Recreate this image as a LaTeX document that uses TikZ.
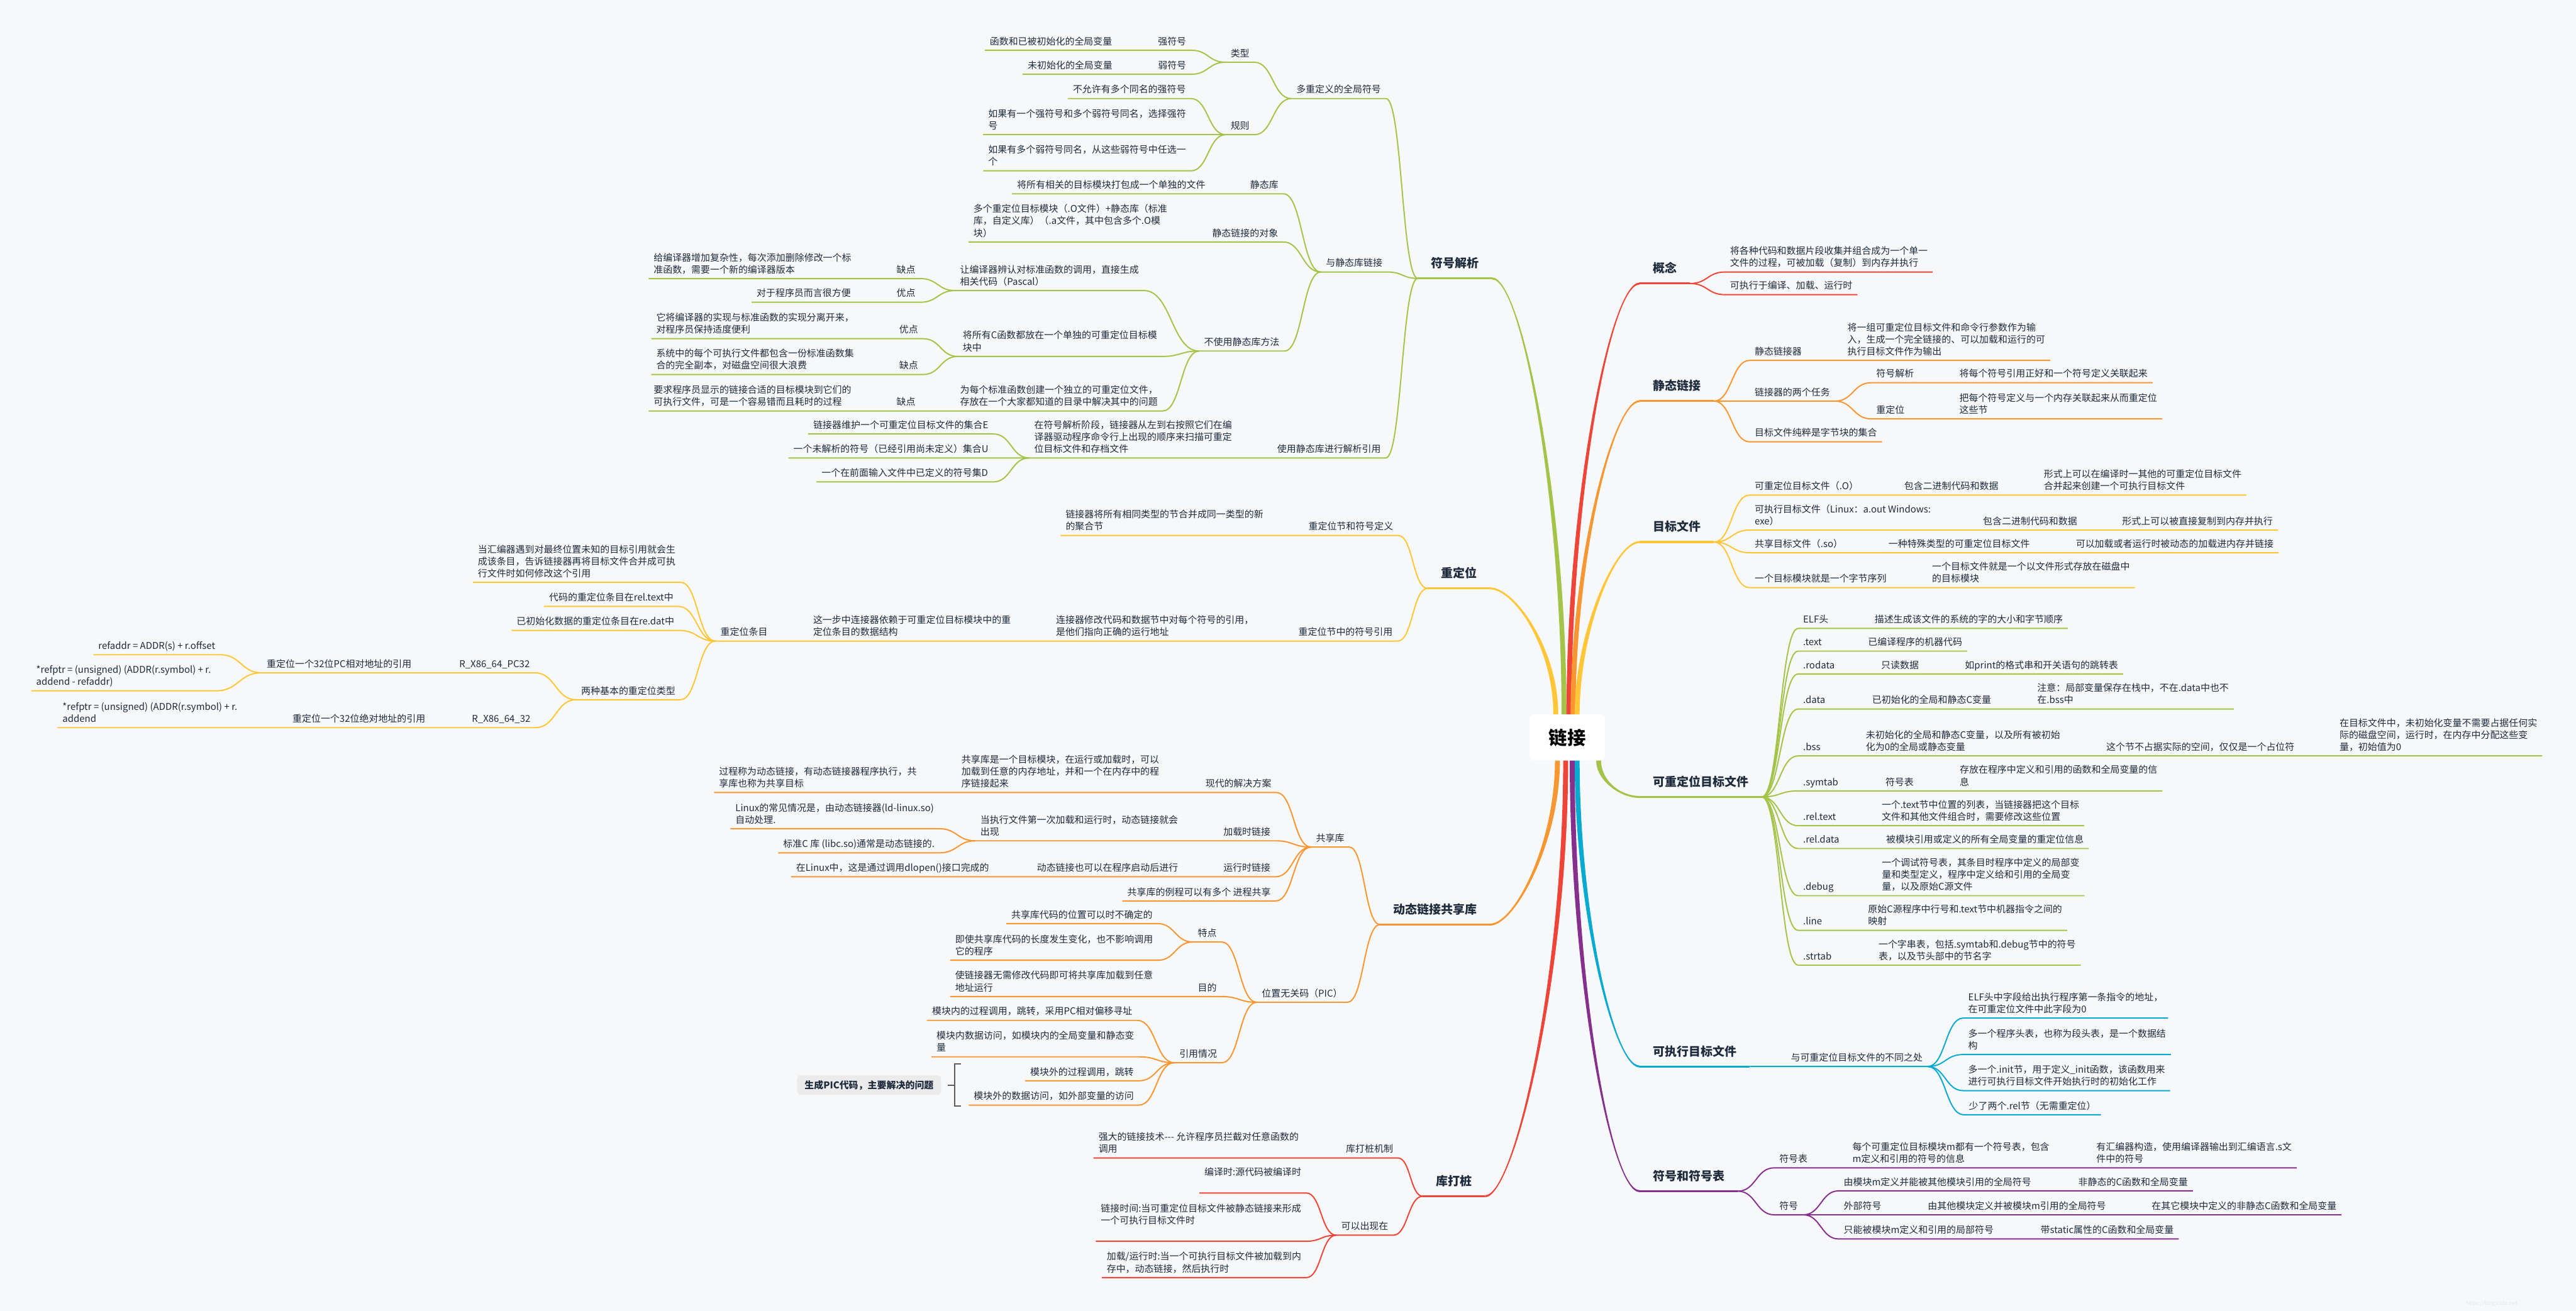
\documentclass[tikz,border=0pt]{standalone}
\usepackage{fontspec}
\setmainfont{Noto Sans CJK SC}
\usetikzlibrary{calc}

\definecolor{sheet}{HTML}{F7F8FA}
\definecolor{ink}{HTML}{1E2B3C}
\definecolor{lred}{HTML}{EF4438}
\definecolor{lorange}{HTML}{F89632}
\definecolor{lyellow}{HTML}{FFC738}
\definecolor{lgreen}{HTML}{A4C449}
\definecolor{lcyan}{HTML}{08AAD0}
\definecolor{lpurple}{HTML}{86308E}
\definecolor{brk}{HTML}{5C5C5C}
\definecolor{gistbg}{HTML}{EBEBEB}
\definecolor{wmark}{HTML}{E4E6EA}

\newcommand\leaffont{\fontsize{16.3}{20.8}\selectfont}
\newcommand\topicfont{\fontsize{20.7}{25}\selectfont\bfseries}
\newcommand\hubfont{\fontsize{32}{38}\selectfont\bfseries}

\begin{document}
\begin{tikzpicture}[x=1mm, y=-1mm,
    hub/.style={fill=white, rounded corners=3mm, minimum width=46mm, minimum height=28mm, font=\hubfont, text=black},
    topic/.style={anchor=south west, inner xsep=8mm, inner ysep=3.85mm, font=\topicfont, text=ink, execute at end node=\strut},
    leaf/.style={anchor=south west, inner xsep=3mm, inner ysep=1.1mm, align=left, font=\leaffont, text=ink, execute at end node=\strut},
    gist/.style={fill=gistbg, rounded corners=2.5mm, minimum width=87.6mm, minimum height=12mm, font=\leaffont\bfseries, text=ink},
    trunk/.style={fill=#1},
    bar/.style={draw=#1, line width=1.2mm},
    twig/.style={draw=#1, line width=0.75mm},
    brace/.style={draw=brk, line width=0.8mm},
    hs/.style={to path={let \p1=(\tikztostart), \p2=(\tikztotarget) in .. controls (0.5*\x1+0.5*\x2,\y1) and (0.5*\x1+0.5*\x2,\y2) .. (\tikztotarget)}}
]
\fill[sheet] (0,0) rectangle (1568,798);
\useasboundingbox (0,0) rectangle (1568,798);

\node[hub] (link) at (954,449) {链接};

\node[topic] (gn) at (998,172.6) {概念};
\node[topic] (jtlj) at (998,244.2) {静态链接};
\node[topic] (mbwj) at (998,330) {目标文件};
\node[topic] (kcdw) at (998,485.2) {可重定位目标文件};
\node[topic] (kzx) at (998,649.3) {可执行目标文件};
\node[topic] (fhfb) at (998,725.2) {符号和符号表};
\node[topic] (fhjx) at (863,169.5) {符号解析};
\node[topic] (cdw) at (869,358.2) {重定位};
\node[topic] (dtlj) at (840,562.9) {动态链接共享库};
\node[topic] (kdz) at (866,728.3) {库打桩};

\node[leaf] (gn1) at (1050,165.6) {将各种代码和数据片段收集并组合成为一个单一\\文件的过程，可被加载（复制）到内存并执行};
\node[leaf] (gn2) at (1050,179.4) {可执行于编译、加载、运行时};

\node[leaf] (ljq) at (1065,219.4) {静态链接器};
\node[leaf] (ljq1) at (1121.5,219.4) {将一组可重定位目标文件和命令行参数作为输\\入，生成一个完全链接的、可以加载和运行的可\\执行目标文件作为输出};
\node[leaf] (rw) at (1065,244.2) {链接器的两个任务};
\node[leaf] (rwjx) at (1139,233) {符号解析};
\node[leaf] (rwjx1) at (1189.6,233) {将每个符号引用正好和一个符号定义关联起来};
\node[leaf] (rwdw) at (1139,255) {重定位};
\node[leaf] (rwdw1) at (1189.6,255) {把每个符号定义与一个内存关联起来从而重定位\\这些节};
\node[leaf] (zjk) at (1065,269) {目标文件纯粹是字节块的集合};

\node[leaf] (kcd) at (1065,301.4) {可重定位目标文件（.O）};
\node[leaf] (kcd1) at (1156,301.4) {包含二进制代码和数据};
\node[leaf] (kcd2) at (1241,301.4) {形式上可以在编译时一其他的可重定位目标文件\\合并起来创建一个可执行目标文件};
\node[leaf] (kzw) at (1065,322.7) {可执行目标文件（Linux：a.out Windows:\\exe）};
\node[leaf] (kzw1) at (1204,322.7) {包含二进制代码和数据};
\node[leaf] (kzw2) at (1288.7,322.7) {形式上可以被直接复制到内存并执行};
\node[leaf] (gxw) at (1065,336.5) {共享目标文件（.so）};
\node[leaf] (gxw1) at (1146.5,336.5) {一种特殊类型的可重定位目标文件};
\node[leaf] (gxw2) at (1260.5,336.5) {可以加载或者运行时被动态的加载进内存并链接};
\node[leaf] (zjxl) at (1065,357.8) {一个目标模块就是一个字节序列};
\node[leaf] (zjxl1) at (1173,357.8) {一个目标文件就是一个以文件形式存放在磁盘中\\的目标模块};

\node[leaf] (elf) at (1094.5,382.6) {ELF头};
\node[leaf] (elf1) at (1138,382.6) {描述生成该文件的系统的字的大小和字节顺序};
\node[leaf] (stext) at (1094.5,396.4) {.text};
\node[leaf] (stext1) at (1134,396.4) {已编译程序的机器代码};
\node[leaf] (srod) at (1094.5,410.3) {.rodata};
\node[leaf] (srod1) at (1142,410.3) {只读数据};
\node[leaf] (srod2) at (1193,410.3) {如print的格式串和开关语句的跳转表};
\node[leaf] (sdat) at (1094.5,431.7) {.data};
\node[leaf] (sdat1) at (1136.5,431.7) {已初始化的全局和静态C变量};
\node[leaf] (sdat2) at (1237,431.7) {注意：局部变量保存在栈中，不在.data中也不\\在.bss中};
\node[leaf] (sbss) at (1094.5,460.2) {.bss};
\node[leaf] (sbss1) at (1132.7,460.2) {未初始化的全局和静态C变量，以及所有被初始\\化为0的全局或静态变量};
\node[leaf] (sbss2) at (1279,460.2) {这个节不占据实际的空间，仅仅是一个占位符};
\node[leaf] (sbss3) at (1421,460.2) {在目标文件中，未初始化变量不需要占据任何实\\际的磁盘空间，运行时，在内存中分配这些变\\量，初始值为0};
\node[leaf] (ssym) at (1094.5,481.5) {.symtab};
\node[leaf] (ssym1) at (1144.6,481.5) {符号表};
\node[leaf] (ssym2) at (1189.8,481.5) {存放在程序中定义和引用的函数和全局变量的信\\息};
\node[leaf] (srelt) at (1094.5,502.7) {.rel.text};
\node[leaf] (srelt1) at (1142.3,502.7) {一个.text节中位置的列表，当链接器把这个目标\\文件和其他文件组合时，需要修改这些位置};
\node[leaf] (sreld) at (1094.5,516.6) {.rel.data};
\node[leaf] (sreld1) at (1145,516.6) {被模块引用或定义的所有全局变量的重定位信息};
\node[leaf] (sdbg) at (1094.5,545.3) {.debug};
\node[leaf] (sdbg1) at (1142.4,545.3) {一个调试符号表，其条目时程序中定义的局部变\\量和类型定义，程序中定义给和引用的全局变\\量，以及原始C源文件};
\node[leaf] (sline) at (1094.5,566.4) {.line};
\node[leaf] (sline1) at (1134,566.4) {原始C源程序中行号和.text节中机器指令之间的\\映射};
\node[leaf] (sstr) at (1094.5,587.6) {.strtab};
\node[leaf] (sstr1) at (1140.4,587.6) {一个字串表，包括.symtab和.debug节中的符号\\表，以及节头部中的节名字};

\node[leaf] (btz) at (1087,649.3) {与可重定位目标文件的不同之处};
\node[leaf] (btz1) at (1195,619.8) {ELF头中字段给出执行程序第一条指令的地址，\\在可重定位文件中此字段为0};
\node[leaf] (btz2) at (1195,642) {多一个程序头表，也称为段头表，是一个数据结\\构};
\node[leaf] (btz3) at (1195,664) {多一个.init节，用于定义\_init函数，该函数用来\\进行可执行目标文件开始执行时的初始化工作};
\node[leaf] (btz4) at (1195.4,678.7) {少了两个.rel节（无需重定位）};

\node[leaf] (fhb) at (1080,711) {符号表};
\node[leaf] (fhb1) at (1124.5,711) {每个可重定位目标模块m都有一个符号表，包含\\m定义和引用的符号的信息};
\node[leaf] (fhb2) at (1273,711) {有汇编器构造，使用编译器输出到汇编语言.s文\\件中的符号};
\node[leaf] (fh) at (1080,739.6) {符号};
\node[leaf] (fhqj) at (1119.2,725) {由模块m定义并能被其他模块引用的全局符号};
\node[leaf] (fhqj1) at (1262,725) {非静态的C函数和全局变量};
\node[leaf] (fhwb) at (1119.2,739.6) {外部符号};
\node[leaf] (fhwb1) at (1170.4,739.6) {由其他模块定义并被模块m引用的全局符号};
\node[leaf] (fhwb2) at (1306.7,739.6) {在其它模块中定义的非静态C函数和全局变量};
\node[leaf] (fhjb) at (1119.2,754.3) {只能被模块m定义和引用的局部符号};
\node[leaf] (fhjb1) at (1239,754.3) {带static属性的C函数和全局变量};

\node[leaf] (dcdy) at (786,60) {多重定义的全局符号};
\node[leaf] (lx) at (746,37.9) {类型};
\node[leaf] (qfh) at (701.8,30.6) {强符号};
\node[leaf] (qfh1) at (599.4,30.6) {函数和已被初始化的全局变量};
\node[leaf] (rfh) at (701.8,45.2) {弱符号};
\node[leaf] (rfh1) at (622.5,45.2) {未初始化的全局变量};
\node[leaf] (gz) at (746,82) {规则};
\node[leaf] (gz1) at (650,60) {不允许有多个同名的强符号};
\node[leaf] (gz2) at (598.5,82) {如果有一个强符号和多个弱符号同名，选择强符\\号};
\node[leaf] (gz3) at (598.5,104) {如果有多个弱符号同名，从这些弱符号中任选一\\个};
\node[leaf] (yjt) at (804,165.6) {与静态库链接};
\node[leaf] (jtk) at (757.9,118) {静态库};
\node[leaf] (jtk1) at (616,118) {将所有相关的目标模块打包成一个单独的文件};
\node[leaf] (jtdx) at (734.8,147.3) {静态链接的对象};
\node[leaf] (jtdx1) at (589.5,147.3) {多个重定位目标模块（.O文件）+静态库（标准\\库，自定义库）（.a文件，其中包含多个.O模\\块）};
\node[leaf] (bsy) at (729.9,213.7) {不使用静态库方法};
\node[leaf] (bsy1) at (581.3,176.9) {让编译器辨认对标准函数的调用，直接生成\\相关代码（Pascal）};
\node[leaf] (bsy1q) at (542.7,169.6) {缺点};
\node[leaf] (bsy1q1) at (394.8,169.6) {给编译器增加复杂性，每次添加删除修改一个标\\准函数，需要一个新的编译器版本};
\node[leaf] (bsy1y) at (542.7,184) {优点};
\node[leaf] (bsy1y1) at (457.5,184) {对于程序员而言很方便};
\node[leaf] (bsy2) at (583,217) {将所有C函数都放在一个单独的可重定位目标模\\块中};
\node[leaf] (bsy2y) at (544.3,206.2) {优点};
\node[leaf] (bsy2y1) at (396.4,206.2) {它将编译器的实现与标准函数的实现分离开来，\\对程序员保持适度便利};
\node[leaf] (bsy2q) at (544.3,228) {缺点};
\node[leaf] (bsy2q1) at (396.4,228) {系统中的每个可执行文件都包含一份标准函数集\\合的完全副本，对磁盘空间很大浪费};
\node[leaf] (bsy3) at (581.3,250.2) {为每个标准函数创建一个独立的可重定位文件，\\存放在一个大家都知道的目录中解决其中的问题};
\node[leaf] (bsy3q) at (542.7,250.2) {缺点};
\node[leaf] (bsy3q1) at (394.8,250.2) {要求程序员显示的链接合适的目标模块到它们的\\可执行文件，可是一个容易错而且耗时的过程};
\node[leaf] (syjt) at (774.4,278.8) {使用静态库进行解析引用};
\node[leaf] (syjt1) at (626.5,278.8) {在符号解析阶段，链接器从左到右按照它们在编\\译器驱动程序命令行上出现的顺序来扫描可重定\\位目标文件和存档文件};
\node[leaf] (jhe) at (492,264.2) {链接器维护一个可重定位目标文件的集合E};
\node[leaf] (jhu) at (479.9,278.8) {一个未解析的符号（已经引用尚未定义）集合U};
\node[leaf] (jhd) at (497,293.4) {一个在前面输入文件中已定义的符号集D};

\node[leaf] (jdy) at (793.4,326) {重定位节和符号定义};
\node[leaf] (jdy1) at (645.6,326) {链接器将所有相同类型的节合并成同一类型的新\\的聚合节};
\node[leaf] (fyy) at (787.3,390.3) {重定位节中的符号引用};
\node[leaf] (fyy1) at (639.7,390.3) {连接器修改代码和数据节中对每个符号的引用，\\是他们指向正确的运行地址};
\node[leaf] (fyy2) at (491.9,390.3) {这一步中连接器依赖于可重定位目标模块中的重\\定位条目的数据结构};
\node[leaf] (dwtm) at (435.5,390.3) {重定位条目};
\node[leaf] (dwtm1) at (287.8,354.5) {当汇编器遇到对最终位置未知的目标引用就会生\\成该条目，告诉链接器再将目标文件合并成可执\\行文件时如何修改这个引用};
\node[leaf] (dwtm2) at (331.2,369.2) {代码的重定位条目在rel.text中};
\node[leaf] (dwtm3) at (311.4,383.8) {已初始化数据的重定位条目在re.dat中};
\node[leaf] (lzlx) at (350.7,426) {两种基本的重定位类型};
\node[leaf] (pc32) at (276.5,409.6) {R\_X86\_64\_PC32};
\node[leaf] (pc32a) at (159.3,409.6) {重定位一个32位PC相对地址的引用};
\node[leaf] (pc32b) at (56.8,398.6) {refaddr = ADDR(s) + r.offset};
\node[leaf] (pc32c) at (19,420.6) {*refptr = (unsigned) (ADDR(r.symbol) + r.\\addend - refaddr)};
\node[leaf] (abs32) at (284.2,443) {R\_X86\_64\_32};
\node[leaf] (abs32a) at (175,443) {重定位一个32位绝对地址的引用};
\node[leaf] (abs32b) at (35,443) {*refptr = (unsigned) (ADDR(r.symbol) + r.\\addend};

\node[leaf] (gxk) at (798,515.7) {共享库};
\node[leaf] (xdfa) at (730.7,482.5) {现代的解决方案};
\node[leaf] (xdfa1) at (582.2,482.5) {共享库是一个目标模块，在运行或加载时，可以\\加载到任意的内存地址，并和一个在内存中的程\\序链接起来};
\node[leaf] (xdfa2) at (434.6,482.5) {过程称为动态链接，有动态链接器程序执行，共\\享库也称为共享目标};
\node[leaf] (jzlj) at (741.6,511.9) {加载时链接};
\node[leaf] (jzlj1) at (593.7,511.9) {当执行文件第一次加载和运行时，动态链接就会\\出现};
\node[leaf] (jzlj2) at (444.6,504.5) {Linux的常见情况是，由动态链接器(ld-linux.so)\\自动处理.};
\node[leaf] (jzlj3) at (473.7,519.2) {标准C 库 (libc.so)通常是动态链接的.};
\node[leaf] (yxlj) at (741.6,533.8) {运行时链接};
\node[leaf] (yxlj1) at (628.1,533.8) {动态链接也可以在程序启动后进行};
\node[leaf] (yxlj2) at (481.5,533.8) {在Linux中，这是通过调用dlopen()接口完成的};
\node[leaf] (lcgx) at (683.2,548.5) {共享库的例程可以有多个 进程共享};
\node[leaf] (pic) at (765,610.2) {位置无关码（PIC）};
\node[leaf] (td) at (726,573.5) {特点};
\node[leaf] (td1) at (612.5,562.3) {共享库代码的位置可以时不确定的};
\node[leaf] (td2) at (578.4,584.6) {即使共享库代码的长度发生变化，也不影响调用\\它的程序};
\node[leaf] (md) at (726,606.7) {目的};
\node[leaf] (md1) at (578.4,606.7) {使链接器无需修改代码即可将共享库加载到任意\\地址运行};
\node[leaf] (yyqk) at (714.8,647) {引用情况};
\node[leaf] (yyqk1) at (564.3,621.2) {模块内的过程调用，跳转，采用PC相对偏移寻址};
\node[leaf] (yyqk2) at (567,643.4) {模块内数据访问，如模块内的全局变量和静态变\\量};
\node[leaf] (yyqk3) at (624,658) {模块外的过程调用，跳转};
\node[leaf] (yyqk4) at (589.7,672.8) {模块外的数据访问，如外部变量的访问};
\node[gist] (picwt) at (529,660.6) {生成PIC代码，主要解决的问题};
\coordinate (brtop) at (585,647.8);
\coordinate (brbot) at (585,673.4);

\node[leaf] (dzjz) at (816.2,705) {库打桩机制};
\node[leaf] (dzjz1) at (665.6,705) {强大的链接技术{-}{-}{-} 允许程序员拦截对任意函数的\\调用};
\node[leaf] (kycx) at (813.3,752) {可以出现在};
\node[leaf] (kycx1) at (730.1,726.3) {编译时:源代码被编译时\\\mbox{}};
\node[leaf] (kycx2) at (667,755.7) {链接时间:当可重定位目标文件被静态链接来形成\\一个可执行目标文件时\\\mbox{}};
\node[leaf] (kycx3) at (670.6,777.8) {加载/运行时:当一个可执行目标文件被加载到内\\存中，动态链接，然后执行时};

\node[anchor=west, text=wmark, font=\fontsize{9}{10}\selectfont] (wmk) at (1500,793.6) {https://blog.csdn.net};

\fill[trunk=lgreen] ([xshift=-3.5mm]link.north) .. controls +(0,-130) and +(18,0) .. ([yshift=-0.6mm]fhjx.south east) -- ([yshift=0.6mm]fhjx.south east) .. controls +(18,0) and +(0,-130) .. ([xshift=-0.5mm]link.north) -- cycle;
\fill[trunk=lyellow] ([xshift=-8.5mm]link.north) .. controls +(0,-40) and +(15,0) .. ([yshift=-0.6mm]cdw.south east) -- ([yshift=0.6mm]cdw.south east) .. controls +(15,0) and +(0,-40) .. ([xshift=-5.5mm]link.north) -- cycle;
\fill[trunk=lorange] ([xshift=-7.5mm]link.south) .. controls +(0,50) and +(15,0) .. ([yshift=0.6mm]dtlj.south east) -- ([yshift=-0.6mm]dtlj.south east) .. controls +(15,0) and +(0,50) .. ([xshift=-4.5mm]link.south) -- cycle;
\fill[trunk=lred] ([xshift=-2.5mm]link.south) .. controls +(0,130) and +(18,0) .. ([yshift=0.6mm]kdz.south east) -- ([yshift=-0.6mm]kdz.south east) .. controls +(18,0) and +(0,130) .. ([xshift=0.5mm]link.south) -- cycle;
\fill[trunk=lred] ([xshift=-0.5mm]link.north) .. controls +(0,-130) and +(-18,0) .. ([yshift=0.6mm]gn.south west) -- ([yshift=-0.6mm]gn.south west) .. controls +(-18,0) and +(0,-130) .. ([xshift=2.5mm]link.north) -- cycle;
\fill[trunk=lorange] ([xshift=2mm]link.north) .. controls +(0,-95) and +(-16,0) .. ([yshift=0.6mm]jtlj.south west) -- ([yshift=-0.6mm]jtlj.south west) .. controls +(-16,0) and +(0,-95) .. ([xshift=5mm]link.north) -- cycle;
\fill[trunk=lyellow] ([xshift=4.5mm]link.north) .. controls +(0,-50) and +(-15,0) .. ([yshift=0.6mm]mbwj.south west) -- ([yshift=-0.6mm]mbwj.south west) .. controls +(-15,0) and +(0,-50) .. ([xshift=7.5mm]link.north) -- cycle;
\fill[trunk=lgreen] ([xshift=-5.5mm]link.south east) .. controls +(0,12) and +(-12,0) .. ([yshift=-0.6mm]kcdw.south west) -- ([yshift=0.6mm]kcdw.south west) .. controls +(-12,0) and +(0,12) .. ([xshift=-2.5mm]link.south east) -- cycle;
\fill[trunk=lcyan] ([xshift=4.5mm]link.south) .. controls +(0,90) and +(-16,0) .. ([yshift=-0.6mm]kzx.south west) -- ([yshift=0.6mm]kzx.south west) .. controls +(-16,0) and +(0,90) .. ([xshift=7.5mm]link.south) -- cycle;
\fill[trunk=lpurple] ([xshift=1.5mm]link.south) .. controls +(0,130) and +(-18,0) .. ([yshift=-0.6mm]fhfb.south west) -- ([yshift=0.6mm]fhfb.south west) .. controls +(-18,0) and +(0,130) .. ([xshift=4.5mm]link.south) -- cycle;

\draw[bar=lgreen] (fhjx.south west) -- (fhjx.south east);
\draw[bar=lyellow] (cdw.south west) -- (cdw.south east);
\draw[bar=lorange] (dtlj.south west) -- (dtlj.south east);
\draw[bar=lred] (kdz.south west) -- (kdz.south east);
\draw[bar=lred] (gn.south west) -- (gn.south east);
\draw[bar=lorange] (jtlj.south west) -- (jtlj.south east);
\draw[bar=lyellow] (mbwj.south west) -- (mbwj.south east);
\draw[bar=lgreen] (kcdw.south west) -- (kcdw.south east);
\draw[bar=lcyan] (kzx.south west) -- (kzx.south east);
\draw[bar=lpurple] (fhfb.south west) -- (fhfb.south east);

\draw[twig=lred] (gn.south east) to[hs] (gn1.south west) -- (gn1.south east);
\draw[twig=lred] (gn.south east) to[hs] (gn2.south west) -- (gn2.south east);

\draw[twig=lorange] (jtlj.south east) to[hs] (ljq.south west) -- (ljq.south east) to[hs] (ljq1.south west) -- (ljq1.south east);
\draw[twig=lorange] (jtlj.south east) to[hs] (rw.south west) -- (rw.south east) to[hs] (rwjx.south west) -- (rwjx.south east) to[hs] (rwjx1.south west) -- (rwjx1.south east);
\draw[twig=lorange] (rw.south east) to[hs] (rwdw.south west) -- (rwdw.south east) to[hs] (rwdw1.south west) -- (rwdw1.south east);
\draw[twig=lorange] (jtlj.south east) to[hs] (zjk.south west) -- (zjk.south east);

\draw[twig=lyellow] (mbwj.south east) to[hs] (kcd.south west) -- (kcd.south east) to[hs] (kcd1.south west) -- (kcd1.south east) to[hs] (kcd2.south west) -- (kcd2.south east);
\draw[twig=lyellow] (mbwj.south east) to[hs] (kzw.south west) -- (kzw.south east) to[hs] (kzw1.south west) -- (kzw1.south east) to[hs] (kzw2.south west) -- (kzw2.south east);
\draw[twig=lyellow] (mbwj.south east) to[hs] (gxw.south west) -- (gxw.south east) to[hs] (gxw1.south west) -- (gxw1.south east) to[hs] (gxw2.south west) -- (gxw2.south east);
\draw[twig=lyellow] (mbwj.south east) to[hs] (zjxl.south west) -- (zjxl.south east) to[hs] (zjxl1.south west) -- (zjxl1.south east);

\draw[twig=lgreen] (kcdw.south east) to[hs] (elf.south west) -- (elf.south east) to[hs] (elf1.south west) -- (elf1.south east);
\draw[twig=lgreen] (kcdw.south east) to[hs] (stext.south west) -- (stext.south east) to[hs] (stext1.south west) -- (stext1.south east);
\draw[twig=lgreen] (kcdw.south east) to[hs] (srod.south west) -- (srod.south east) to[hs] (srod1.south west) -- (srod1.south east) to[hs] (srod2.south west) -- (srod2.south east);
\draw[twig=lgreen] (kcdw.south east) to[hs] (sdat.south west) -- (sdat.south east) to[hs] (sdat1.south west) -- (sdat1.south east) to[hs] (sdat2.south west) -- (sdat2.south east);
\draw[twig=lgreen] (kcdw.south east) to[hs] (sbss.south west) -- (sbss.south east) to[hs] (sbss1.south west) -- (sbss1.south east) to[hs] (sbss2.south west) -- (sbss2.south east) to[hs] (sbss3.south west) -- (sbss3.south east);
\draw[twig=lgreen] (kcdw.south east) to[hs] (ssym.south west) -- (ssym.south east) to[hs] (ssym1.south west) -- (ssym1.south east) to[hs] (ssym2.south west) -- (ssym2.south east);
\draw[twig=lgreen] (kcdw.south east) to[hs] (srelt.south west) -- (srelt.south east) to[hs] (srelt1.south west) -- (srelt1.south east);
\draw[twig=lgreen] (kcdw.south east) to[hs] (sreld.south west) -- (sreld.south east) to[hs] (sreld1.south west) -- (sreld1.south east);
\draw[twig=lgreen] (kcdw.south east) to[hs] (sdbg.south west) -- (sdbg.south east) to[hs] (sdbg1.south west) -- (sdbg1.south east);
\draw[twig=lgreen] (kcdw.south east) to[hs] (sline.south west) -- (sline.south east) to[hs] (sline1.south west) -- (sline1.south east);
\draw[twig=lgreen] (kcdw.south east) to[hs] (sstr.south west) -- (sstr.south east) to[hs] (sstr1.south west) -- (sstr1.south east);

\draw[twig=lcyan] (kzx.south east) to[hs] (btz.south west) -- (btz.south east) to[hs] (btz1.south west) -- (btz1.south east);
\draw[twig=lcyan] (btz.south east) to[hs] (btz2.south west) -- (btz2.south east);
\draw[twig=lcyan] (btz.south east) to[hs] (btz3.south west) -- (btz3.south east);
\draw[twig=lcyan] (btz.south east) to[hs] (btz4.south west) -- (btz4.south east);

\draw[twig=lpurple] (fhfb.south east) to[hs] (fhb.south west) -- (fhb.south east) to[hs] (fhb1.south west) -- (fhb1.south east) to[hs] (fhb2.south west) -- (fhb2.south east);
\draw[twig=lpurple] (fhfb.south east) to[hs] (fh.south west) -- (fh.south east) to[hs] (fhqj.south west) -- (fhqj.south east) to[hs] (fhqj1.south west) -- (fhqj1.south east);
\draw[twig=lpurple] (fh.south east) to[hs] (fhwb.south west) -- (fhwb.south east) to[hs] (fhwb1.south west) -- (fhwb1.south east) to[hs] (fhwb2.south west) -- (fhwb2.south east);
\draw[twig=lpurple] (fh.south east) to[hs] (fhjb.south west) -- (fhjb.south east) to[hs] (fhjb1.south west) -- (fhjb1.south east);

\draw[twig=lgreen] (qfh1.south west) -- (qfh1.south east) to[hs] (qfh.south west) -- (qfh.south east) to[hs] (lx.south west) -- (lx.south east) to[hs] (dcdy.south west) -- (dcdy.south east) to[hs] (fhjx.south west);
\draw[twig=lgreen] (rfh1.south west) -- (rfh1.south east) to[hs] (rfh.south west) -- (rfh.south east) to[hs] (lx.south west);
\draw[twig=lgreen] (gz1.south west) -- (gz1.south east) to[hs] (gz.south west) -- (gz.south east) to[hs] (dcdy.south west);
\draw[twig=lgreen] (gz2.south west) -- (gz2.south east) to[hs] (gz.south west);
\draw[twig=lgreen] (gz3.south west) -- (gz3.south east) to[hs] (gz.south west);
\draw[twig=lgreen] (jtk1.south west) -- (jtk1.south east) to[hs] (jtk.south west) -- (jtk.south east) to[hs] (yjt.south west) -- (yjt.south east) to[hs] (fhjx.south west);
\draw[twig=lgreen] (jtdx1.south west) -- (jtdx1.south east) to[hs] (jtdx.south west) -- (jtdx.south east) to[hs] (yjt.south west);
\draw[twig=lgreen] (bsy1q1.south west) -- (bsy1q1.south east) to[hs] (bsy1q.south west) -- (bsy1q.south east) to[hs] (bsy1.south west) -- (bsy1.south east) to[hs] (bsy.south west) -- (bsy.south east) to[hs] (yjt.south west);
\draw[twig=lgreen] (bsy1y1.south west) -- (bsy1y1.south east) to[hs] (bsy1y.south west) -- (bsy1y.south east) to[hs] (bsy1.south west);
\draw[twig=lgreen] (bsy2y1.south west) -- (bsy2y1.south east) to[hs] (bsy2y.south west) -- (bsy2y.south east) to[hs] (bsy2.south west) -- (bsy2.south east) to[hs] (bsy.south west);
\draw[twig=lgreen] (bsy2q1.south west) -- (bsy2q1.south east) to[hs] (bsy2q.south west) -- (bsy2q.south east) to[hs] (bsy2.south west);
\draw[twig=lgreen] (bsy3q1.south west) -- (bsy3q1.south east) to[hs] (bsy3q.south west) -- (bsy3q.south east) to[hs] (bsy3.south west) -- (bsy3.south east) to[hs] (bsy.south west);
\draw[twig=lgreen] (jhu.south west) -- (jhu.south east) to[hs] (syjt1.south west) -- (syjt1.south east) to[hs] (syjt.south west) -- (syjt.south east) to[hs] (fhjx.south west);
\draw[twig=lgreen] (jhe.south west) -- (jhe.south east) to[hs] (syjt1.south west);
\draw[twig=lgreen] (jhd.south west) -- (jhd.south east) to[hs] (syjt1.south west);

\draw[twig=lyellow] (jdy1.south west) -- (jdy1.south east) to[hs] (jdy.south west) -- (jdy.south east) to[hs] (cdw.south west);
\draw[twig=lyellow] (abs32b.south west) -- (abs32b.south east) to[hs] (abs32a.south west) -- (abs32a.south east) to[hs] (abs32.south west) -- (abs32.south east) to[hs] (lzlx.south west) -- (lzlx.south east) to[hs] (dwtm.south west) -- (dwtm.south east) to[hs] (fyy2.south west) -- (fyy2.south east) to[hs] (fyy1.south west) -- (fyy1.south east) to[hs] (fyy.south west) -- (fyy.south east) to[hs] (cdw.south west);
\draw[twig=lyellow] (pc32b.south west) -- (pc32b.south east) to[hs] (pc32a.south west) -- (pc32a.south east) to[hs] (pc32.south west) -- (pc32.south east) to[hs] (lzlx.south west);
\draw[twig=lyellow] (pc32c.south west) -- (pc32c.south east) to[hs] (pc32a.south west);
\draw[twig=lyellow] (dwtm1.south west) -- (dwtm1.south east) to[hs] (dwtm.south west);
\draw[twig=lyellow] (dwtm2.south west) -- (dwtm2.south east) to[hs] (dwtm.south west);
\draw[twig=lyellow] (dwtm3.south west) -- (dwtm3.south east) to[hs] (dwtm.south west);

\draw[twig=lorange] (xdfa2.south west) -- (xdfa2.south east) to[hs] (xdfa1.south west) -- (xdfa1.south east) to[hs] (xdfa.south west) -- (xdfa.south east) to[hs] (gxk.south west) -- (gxk.south east) to[hs] (dtlj.south west);
\draw[twig=lorange] (jzlj2.south west) -- (jzlj2.south east) to[hs] (jzlj1.south west) -- (jzlj1.south east) to[hs] (jzlj.south west) -- (jzlj.south east) to[hs] (gxk.south west);
\draw[twig=lorange] (jzlj3.south west) -- (jzlj3.south east) to[hs] (jzlj1.south west);
\draw[twig=lorange] (yxlj2.south west) -- (yxlj2.south east) to[hs] (yxlj1.south west) -- (yxlj1.south east) to[hs] (yxlj.south west) -- (yxlj.south east) to[hs] (gxk.south west);
\draw[twig=lorange] (lcgx.south west) -- (lcgx.south east) to[hs] (gxk.south west);
\draw[twig=lorange] (td1.south west) -- (td1.south east) to[hs] (td.south west) -- (td.south east) to[hs] (pic.south west) -- (pic.south east) to[hs] (dtlj.south west);
\draw[twig=lorange] (td2.south west) -- (td2.south east) to[hs] (td.south west);
\draw[twig=lorange] (md1.south west) -- (md1.south east) to[hs] (md.south west) -- (md.south east) to[hs] (pic.south west);
\draw[twig=lorange] (yyqk1.south west) -- (yyqk1.south east) to[hs] (yyqk.south west) -- (yyqk.south east) to[hs] (pic.south west);
\draw[twig=lorange] (yyqk2.south west) -- (yyqk2.south east) to[hs] (yyqk.south west);
\draw[twig=lorange] (yyqk3.south west) -- (yyqk3.south east) to[hs] (yyqk.south west);
\draw[twig=lorange] (yyqk4.south west) -- (yyqk4.south east) to[hs] (yyqk.south west);
\draw[brace] (brtop) -- ++(-4,0) |- (brbot);
\draw[brace] ([xshift=4mm]picwt.east) -- ++(4,0);

\draw[twig=lred] (dzjz1.south west) -- (dzjz1.south east) to[hs] (dzjz.south west) -- (dzjz.south east) to[hs] (kdz.south west);
\draw[twig=lred] (kycx1.south west) -- (kycx1.south east) to[hs] (kycx.south west) -- (kycx.south east) to[hs] (kdz.south west);
\draw[twig=lred] (kycx2.south west) -- (kycx2.south east) to[hs] (kycx.south west);
\draw[twig=lred] (kycx3.south west) -- (kycx3.south east) to[hs] (kycx.south west);
\end{tikzpicture}
\end{document}
